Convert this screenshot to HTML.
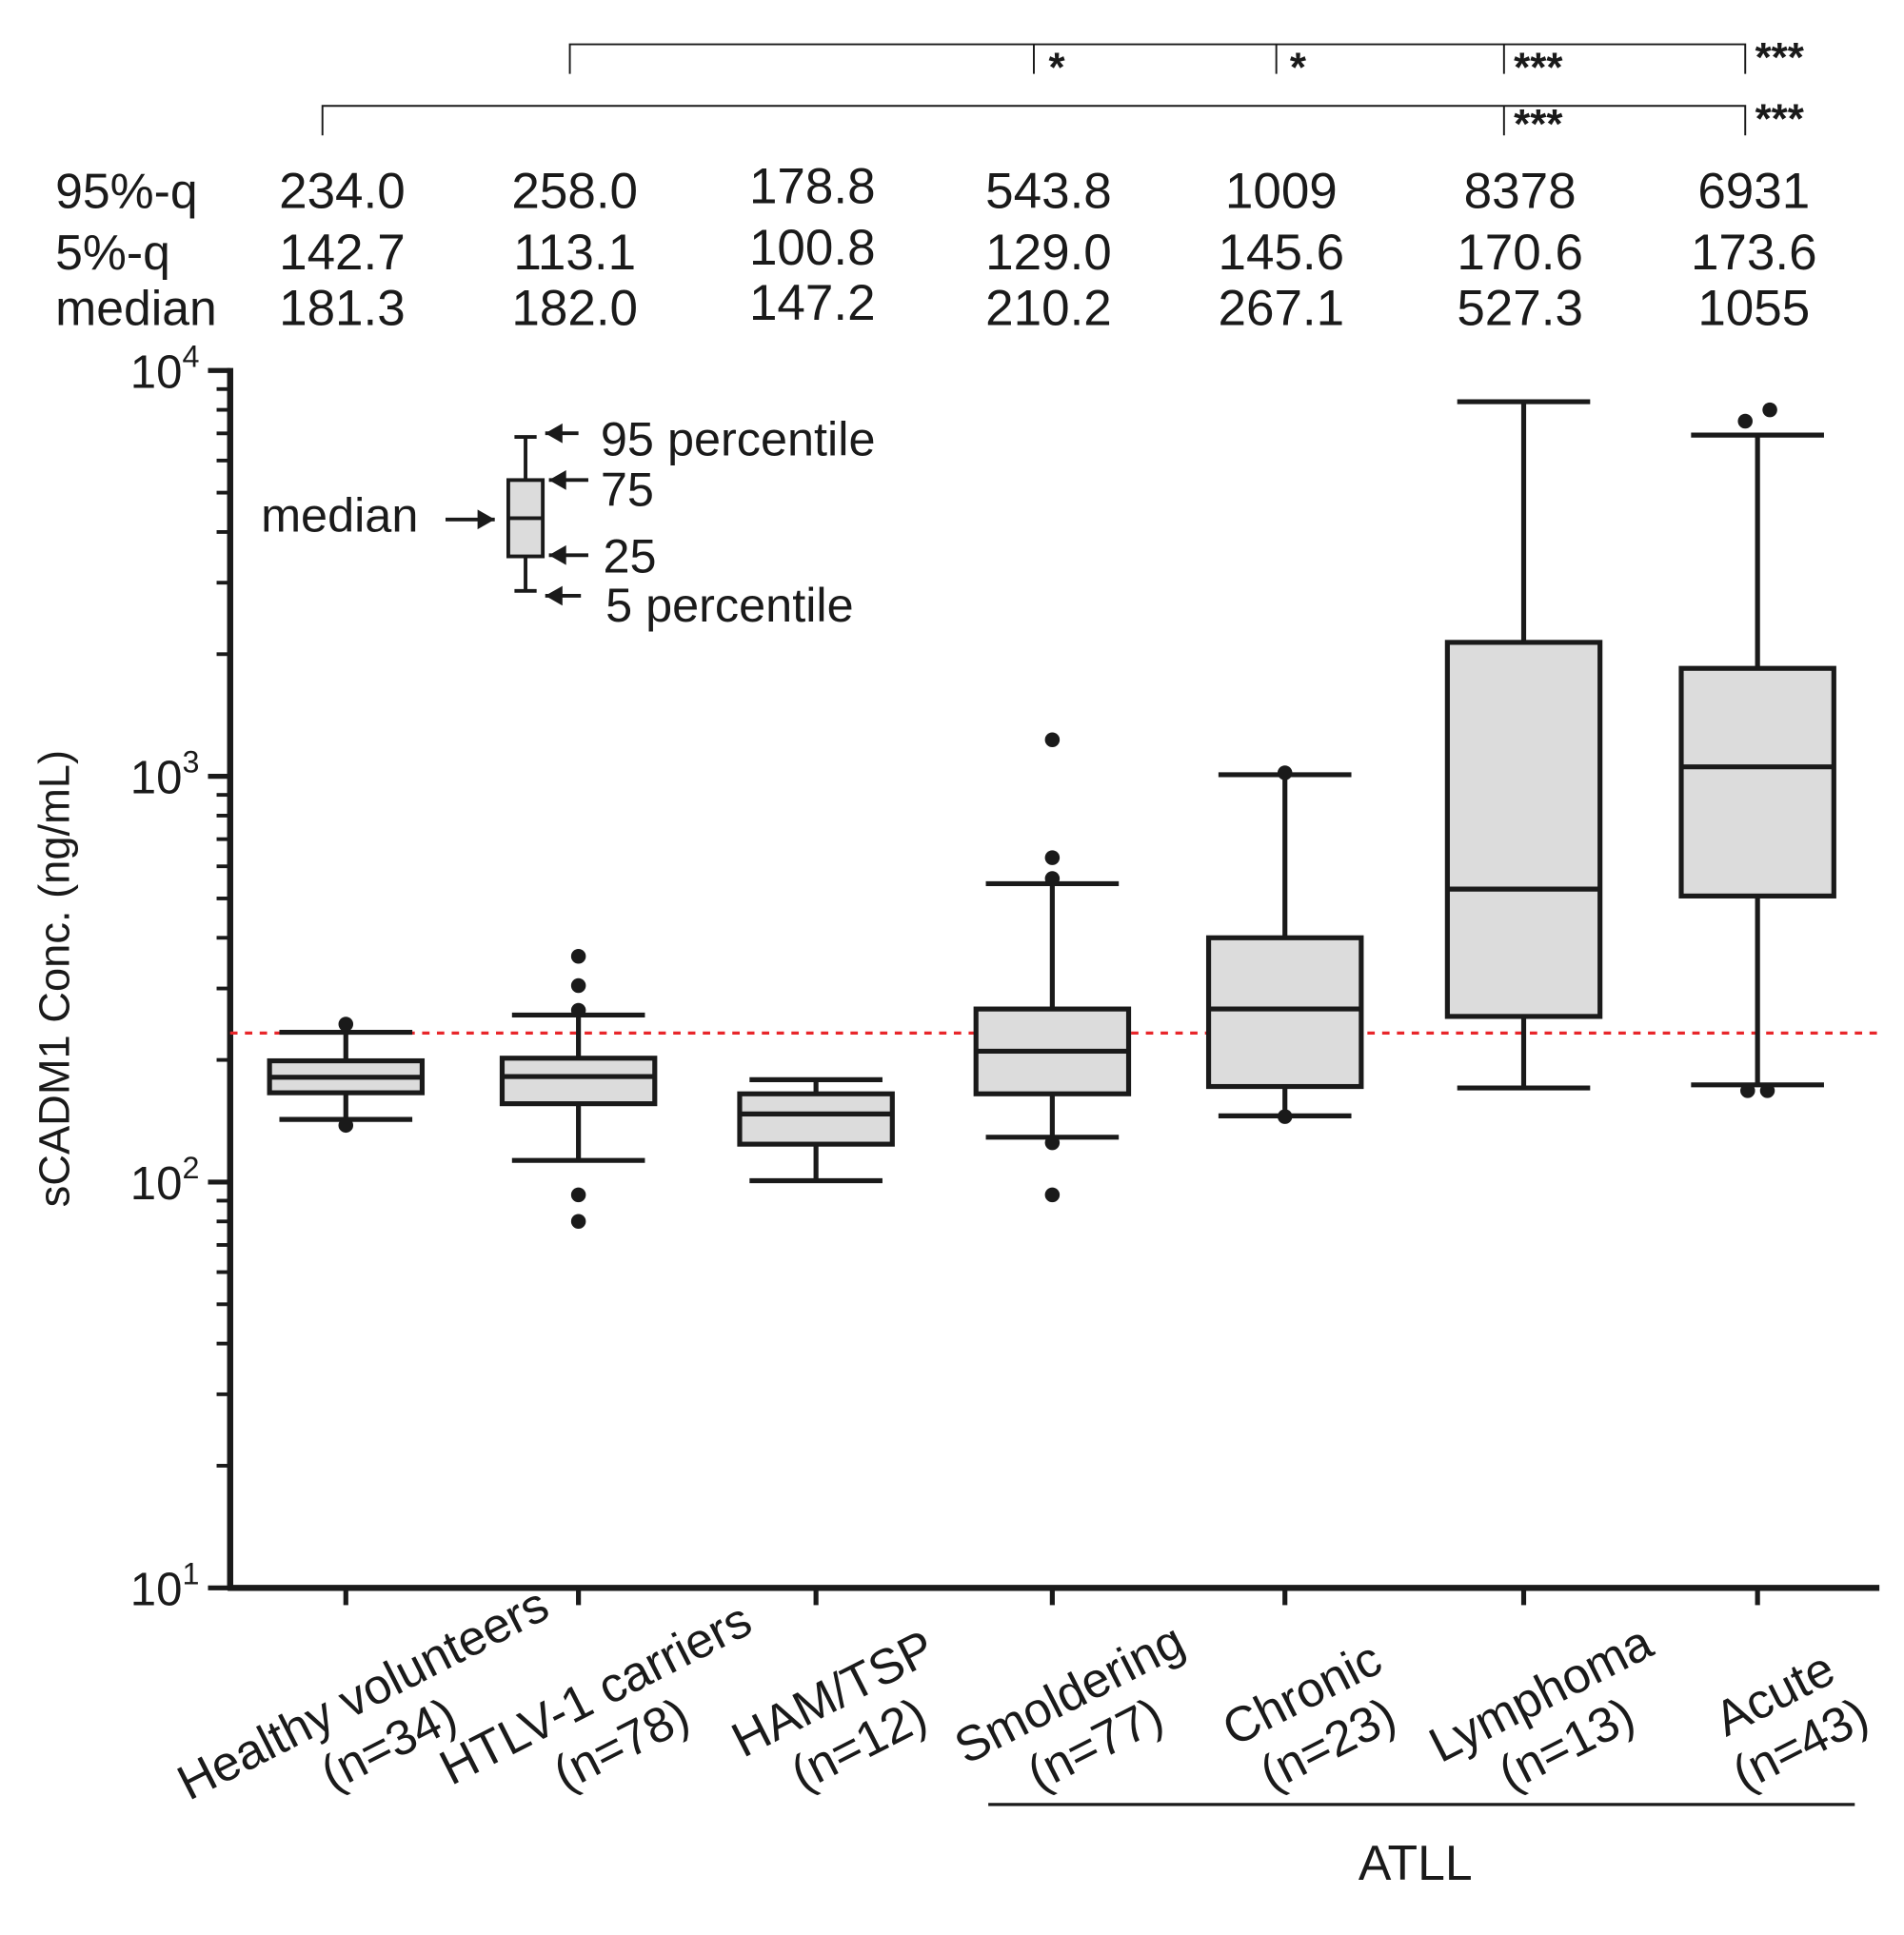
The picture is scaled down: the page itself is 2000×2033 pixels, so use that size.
<!DOCTYPE html>
<html><head><meta charset="utf-8"><style>
html,body{margin:0;padding:0;background:#fff;}
svg{display:block;font-family:"Liberation Sans",sans-serif;}
</style></head><body>
<svg id="chart" width="2000" height="2033" viewBox="0 0 1547 1572" preserveAspectRatio="none" xmlns="http://www.w3.org/2000/svg">
<g id="plot"></g>
</svg>
<script>
const groups = ["Healthy volunteers","HTLV-1 carriers","HAM/TSP","Smoldering","Chronic","Lymphoma","Acute"];
const nLabels = ["(n=34)","(n=78)","(n=12)","(n=77)","(n=23)","(n=13)","(n=43)"];
const p95 = [234.0,258.0,178.8,543.8,1009,8378,6931];
const p5 = [142.7,113.1,100.8,129.0,145.6,170.6,173.6];
const medians = [181.3,182.0,147.2,210.2,267.1,527.3,1055];
const q1 = [166,156,124,165,172,256,507];
const q3 = [199,202,165,267,400,2138,1845];
const outliers = [[245,138],[360,305,265,93,80],[],[1230,630,560,125,93],[1020,145],[],[7500,8000,168,168]];
const p95Text = ["234.0","258.0","178.8","543.8","1009","8378","6931"];
const p5Text = ["142.7","113.1","100.8","129.0","145.6","170.6","173.6"];
const medText = ["181.3","182.0","147.2","210.2","267.1","527.3","1055"];
const cutoff = 233;
const yTicks = [1,2,3,4];

const NS="http://www.w3.org/2000/svg";
const g=document.getElementById('plot');
const X0=187,X1=1527,Ytop=301,Ybot=1290;
function yScale(v){return Ybot-(Math.log10(v)-1)/3*(Ybot-Ytop);}
const centers=[281,470,663,855,1044,1238,1428];
function xScale(i){return centers[i];}
function mk(tag,attrs,name,text){const e=document.createElementNS(NS,tag);for(const k in attrs)e.setAttribute(k,attrs[k]);


if(text!==undefined)e.textContent=text;g.appendChild(e);return e;}
const K={stroke:"#1a1a1a","stroke-width":4,fill:"none"};
const TXT="#1a1a1a";
// axes
mk('line',{x1:X0,y1:Ytop-2,x2:X0,y2:Ybot+2,...K,"stroke-width":5},'y-axis');
mk('line',{x1:X0-2,y1:Ybot,x2:X1,y2:Ybot,...K,"stroke-width":5},'x-axis');
yTicks.forEach(p=>{
  const y=yScale(Math.pow(10,p));
  mk('line',{x1:X0-18,y1:y,x2:X0,y2:y,...K},'y-major-tick');
  const t=mk('text',{x:162,y:y+14,"text-anchor":"end","font-size":38,fill:TXT},'y-tick-label','10');
  const s=document.createElementNS(NS,'tspan');s.setAttribute('dy',-17);s.setAttribute('font-size',25);s.textContent=String(p);t.appendChild(s);
  if(p<4)for(let m=2;m<=9;m++){const yy=yScale(m*Math.pow(10,p));mk('line',{x1:X0-11,y1:yy,x2:X0,y2:yy,...K,"stroke-width":3},'y-minor-tick');}
});
mk('text',{x:0,y:0,transform:"translate(56 795) rotate(-90)","text-anchor":"middle","font-size":35,fill:TXT},'y-axis-title','sCADM1 Conc. (ng/mL)');
// cutoff
mk('line',{x1:X0,y1:yScale(cutoff),x2:X1,y2:yScale(cutoff),stroke:"#e8262a","stroke-width":2.5,"stroke-dasharray":"6 6"},'cutoff-line');
// boxes
groups.forEach((gr,i)=>{
  const c=xScale(i),w=124,cw=54;
  mk('line',{x1:c,y1:Ybot,x2:c,y2:Ybot+14,...K},'x-tick');
  mk('line',{x1:c,y1:yScale(p95[i]),x2:c,y2:yScale(q3[i]),...K},'whisker-upper');
  mk('line',{x1:c,y1:yScale(q1[i]),x2:c,y2:yScale(p5[i]),...K},'whisker-lower');
  mk('line',{x1:c-cw,y1:yScale(p95[i]),x2:c+cw,y2:yScale(p95[i]),...K},'cap-95');
  mk('line',{x1:c-cw,y1:yScale(p5[i]),x2:c+cw,y2:yScale(p5[i]),...K},'cap-5');
  mk('rect',{x:c-w/2,y:yScale(q3[i]),width:w,height:yScale(q1[i])-yScale(q3[i]),fill:"#dcdcdc",stroke:"#1a1a1a","stroke-width":4},'box-'+i);
  mk('line',{x1:c-w/2,y1:yScale(medians[i]),x2:c+w/2,y2:yScale(medians[i]),...K},'median-line');
  outliers[i].forEach((v,k)=>{
    let dx=0; if(outliers[i].filter(u=>u===v).length>1) dx=(k%2?8:-8);
    if(i===6&&v>7000) dx=(v>7700?10:-10);
    mk('circle',{cx:c+dx,cy:yScale(v),r:6,fill:"#1a1a1a"},'outlier-point');
  });
  const dy=(i===2)?-4:0;
  mk('text',{x:c-3,y:169+dy,"text-anchor":"middle","font-size":41,fill:TXT},'p95-value',p95Text[i]);
  mk('text',{x:c-3,y:219+dy,"text-anchor":"middle","font-size":41,fill:TXT},'p5-value',p5Text[i]);
  mk('text',{x:c-3,y:264+dy,"text-anchor":"middle","font-size":41,fill:TXT},'median-value',medText[i]);
  const t=mk('text',{x:0,y:0,transform:`translate(${c+20} ${1388}) rotate(-27)`,"text-anchor":"middle","font-size":40,fill:TXT},'x-label');
  const a=document.createElementNS(NS,'tspan');a.setAttribute('x',0);a.textContent=gr;t.appendChild(a);
  const b=document.createElementNS(NS,'tspan');b.setAttribute('x',0);b.setAttribute('dy',46);b.textContent=nLabels[i];t.appendChild(b);
});
[["95%-q",169],["5%-q",219],["median",264]].forEach(r=>mk('text',{x:45,y:r[1],"font-size":40,fill:TXT},'row-label',r[0]));
// brackets
const T={stroke:"#1a1a1a","stroke-width":1.5,fill:"none"};
mk('polyline',{points:"463,60 463,36 1418,36 1418,60",...T},'bracket-htlv');
[840,1037,1222].forEach(x=>mk('line',{x1:x,y1:36,x2:x,y2:60,...T},'bracket-tick'));
mk('polyline',{points:"262,110 262,86 1418,86 1418,110",...T},'bracket-healthy');
mk('line',{x1:1222,y1:86,x2:1222,y2:110,...T},'bracket-tick');
[[852,"*",66],[1048,"*",66],[1230,"***",66],[1426,"***",58],[1230,"***",112],[1426,"***",108]].forEach(s=>mk('text',{x:s[0],y:s[2],"font-size":34,"font-weight":"bold",fill:TXT},'significance-stars',s[1]));
// legend inset
mk('line',{x1:427,y1:355,x2:427,y2:480,...K,"stroke-width":3},'legend-whisker');
mk('line',{x1:418,y1:355,x2:436,y2:355,...K,"stroke-width":3},'legend-cap');
mk('line',{x1:418,y1:480,x2:436,y2:480,...K,"stroke-width":3},'legend-cap');
mk('rect',{x:413,y:390,width:28,height:62,fill:"#dcdcdc",stroke:"#1a1a1a","stroke-width":3},'legend-box');
mk('line',{x1:413,y1:421,x2:441,y2:421,...K,"stroke-width":3},'legend-median');
function arrow(x1,y,x2,dir,name){mk('line',{x1:x1,y1:y,x2:x2,y2:y,...K,"stroke-width":3},name);
 const tip=x2; mk('polygon',{points:dir<0?`${tip},${y} ${tip+14},${y-8} ${tip+14},${y+8}`:`${tip},${y} ${tip-14},${y-8} ${tip-14},${y+8}`,fill:"#1a1a1a"},name+'-head');}
arrow(470,352,443,-1,'arrow-95');arrow(478,390,446,-1,'arrow-75');arrow(478,451,446,-1,'arrow-25');arrow(472,484,443,-1,'arrow-5');
arrow(362,422,402,1,'arrow-median');
[["95 percentile",488,370],["75",488,411],["25",490,465],["5 percentile",492,505],["median",212,432]].forEach(t=>mk('text',{x:t[1],y:t[2],"font-size":39,fill:TXT},'legend-label',t[0]));
// ATLL
mk('line',{x1:803,y1:1466,x2:1507,y2:1466,...K,"stroke-width":2.5},'atll-line');
mk('text',{x:1150,y:1527,"text-anchor":"middle","font-size":40,fill:TXT},'atll-label','ATLL');
</script>
</body></html>
